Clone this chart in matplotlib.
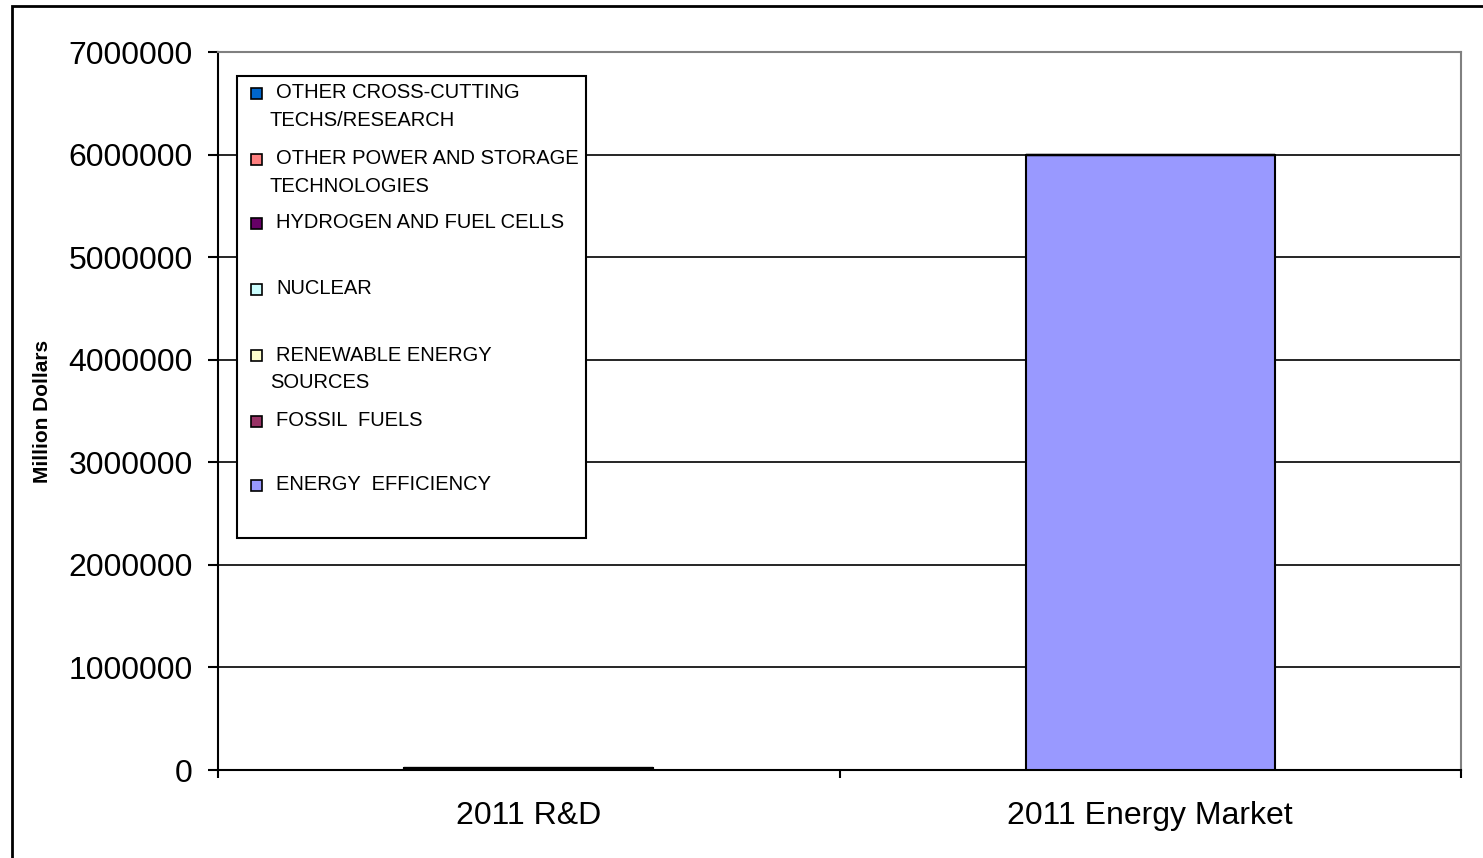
import matplotlib
matplotlib.use("Agg")
import matplotlib.pyplot as plt
from matplotlib.patches import Rectangle
import numpy as np

plt.rcParams['font.family'] = ['Liberation Sans', 'DejaVu Sans']

categories = ["2011 R&D", "2011 Energy Market"]

# stacking order, bottom to top
series_names = [
    "ENERGY  EFFICIENCY",
    "FOSSIL  FUELS",
    "RENEWABLE ENERGY\nSOURCES",
    "NUCLEAR",
    "HYDROGEN AND FUEL CELLS",
    "OTHER POWER AND STORAGE\nTECHNOLOGIES",
    "OTHER CROSS-CUTTING\nTECHS/RESEARCH",
]
series_colors = ["#9999FF", "#993366", "#FFFFCC", "#CCFFFF", "#660066", "#FF8080", "#0066CC"]

energy_efficiency = [5000, 6000000]
fossil_fuels = [4000, 0]
renewable = [4500, 0]
nuclear = [2500, 0]
hydrogen = [500, 0]
other_power = [1500, 0]
other_cross = [4000, 0]
series_values = [energy_efficiency, fossil_fuels, renewable, nuclear,
                 hydrogen, other_power, other_cross]

yticks = [0, 1000000, 2000000, 3000000, 4000000, 5000000, 6000000, 7000000]

fig = plt.figure(figsize=(14.83, 8.58), dpi=100)
ax = fig.add_axes([218 / 1483, 1 - 770 / 858, (1461 - 218) / 1483, (770 - 52) / 858])

# outer chart frame
fig.patches.append(Rectangle((12 / 1483, -0.05), 1.2, 1 - 6 / 858 + 0.05,
                             transform=fig.transFigure, fill=False,
                             edgecolor="black", linewidth=2.0, zorder=0))

x = np.arange(len(categories))
bottom = np.zeros(len(categories))
for name, color, vals in zip(series_names, series_colors, series_values):
    vals = np.array(vals, dtype=float)
    ax.bar(x, vals, width=0.4, bottom=bottom, color=color,
           edgecolor="black", linewidth=1.5, zorder=3)
    bottom += vals

ax.set_xlim(-0.5, 1.5)
ax.set_ylim(0, 7000000)
ax.set_yticks(yticks)
ax.set_yticklabels([str(v) for v in yticks], fontsize=23)
ax.yaxis.grid(True, color="black", linewidth=1.2, zorder=0)
ax.set_axisbelow(True)

ax.set_xticks([-0.5, 0.5, 1.5])
ax.set_xticklabels([])
ax.set_xticks(x, minor=True)
ax.set_xticklabels(categories, minor=True, fontsize=23)
ax.tick_params(axis="x", which="minor", length=0, pad=22)
ax.tick_params(axis="x", which="major", length=6, width=1.5, direction="out")
ax.tick_params(axis="y", length=7, width=1.5, direction="out", pad=11)

for side in ["left", "bottom"]:
    ax.spines[side].set_color("black")
    ax.spines[side].set_linewidth(1.5)
for side in ["top", "right"]:
    ax.spines[side].set_color("#808080")
    ax.spines[side].set_linewidth(1.5)

ax.set_ylabel("Million Dollars", fontsize=15, fontweight="bold", labelpad=12)

# legend box, entries listed top to bottom in reverse stacking order
lx0, lx1 = (237 - 218) / 1243, (586 - 218) / 1243
ly_top, ly_bot = 1 - (76 - 52) / 718, 1 - (538 - 52) / 718
ax.add_patch(Rectangle((lx0, ly_bot), lx1 - lx0, ly_top - ly_bot,
                       transform=ax.transAxes, facecolor="white",
                       edgecolor="black", linewidth=1.5, zorder=5))
entry_px = [93, 159, 223, 289, 355, 421, 485]
for i, (name, color) in enumerate(zip(series_names[::-1], series_colors[::-1])):
    yc = 1 - (entry_px[i] - 52) / 718
    sq_w = 11 / 1243
    sq_h = 11 / 718
    ax.add_patch(Rectangle(((256 - 218) / 1243 - sq_w / 2, yc - sq_h / 2), sq_w, sq_h,
                           transform=ax.transAxes, facecolor=color,
                           edgecolor="black", linewidth=1.2, zorder=6))
    lines = name.split("\n")
    ax.text((276 - 218) / 1243, yc, lines[0], transform=ax.transAxes,
            fontsize=14.5, va="center", ha="left", zorder=6)
    if len(lines) > 1:
        ax.text((270 - 218) / 1243, yc - 28 / 718, lines[1], transform=ax.transAxes,
                fontsize=14.5, va="center", ha="left", zorder=6)

fig.savefig("out.png", dpi=100, facecolor="white")
